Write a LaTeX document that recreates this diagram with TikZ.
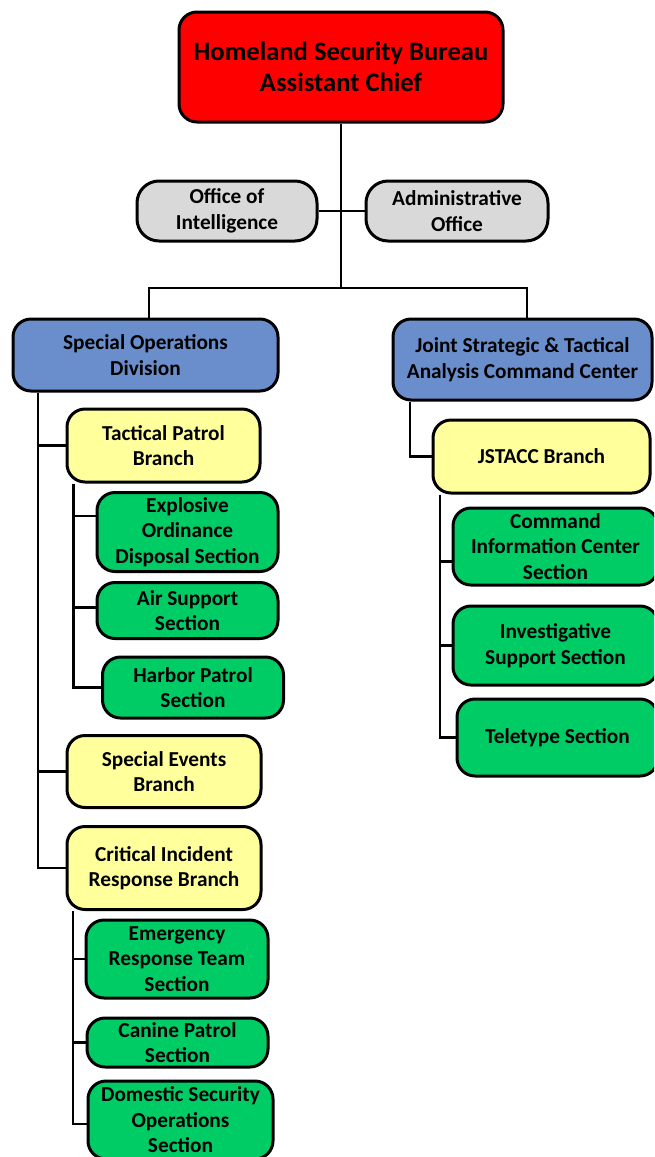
\documentclass[tikz,border=0pt]{standalone}
\usepackage{fontspec}
\setmainfont{Carlito}
\definecolor{cRed}{RGB}{255,0,0}
\definecolor{cGrey}{RGB}{217,217,217}
\definecolor{cBlue}{RGB}{106,142,204}
\definecolor{cYellow}{RGB}{255,255,156}
\definecolor{cGreen}{RGB}{0,204,102}
\newcommand{\bxfont}{\fontsize{21.3}{25.5}\selectfont\bfseries}
\newcommand{\topfont}{\fontsize{26.6}{30.5}\selectfont\bfseries}
\tikzset{
  orgbox/.style={draw=black, line width=3pt, rounded corners=18pt, inner sep=0pt,
    align=center, font=\bxfont, text=black},
  bsize/.style 2 args={minimum width=#1 pt, minimum height=#2 pt},
  link/.style={draw=black, line width=2.8pt},
  redbox/.style={orgbox, fill=cRed, font=\topfont},
  greybox/.style={orgbox, fill=cGrey, rounded corners=22pt},
  bluebox/.style={orgbox, fill=cBlue},
  yellowbox/.style={orgbox, fill=cYellow},
  greenbox/.style={orgbox, fill=cGreen},
}
\begin{document}
\begin{tikzpicture}[x=1pt,y=-1pt]
\useasboundingbox (0,0) rectangle (654,1157);
\clip (0,0) rectangle (654,1157);
\fill[white] (0,0) rectangle (654,1157);

% nodes
\node[redbox, bsize={324}{110}] (top) at (341,67) {Homeland Security Bureau\\Assistant Chief};
\node[greybox, bsize={180}{60}] (oi) at (227,211) {Office of\\Intelligence};
\node[greybox, bsize={182}{60}] (ao) at (457,211) {Administrative\\Office};
\node[bluebox, bsize={265}{72}] (sod) at (145.5,355) {Special Operations\\Division};
\node[bluebox, bsize={259}{81}] (jcc) at (522.5,359.5) {Joint Strategic \& Tactical\\Analysis Command Center};

\node[yellowbox, bsize={193}{73}] (tpb) at (163.5,445.5) {Tactical Patrol\\Branch};
\node[greenbox, bsize={181}{79}] (eod) at (187.5,532) {Explosive\\Ordinance\\Disposal Section};
\node[greenbox, bsize={181}{56}] (air) at (187.5,610.5) {Air Support\\Section};
\node[greenbox, bsize={181}{61}] (hps) at (193,687.5) {Harbor Patrol\\Section};
\node[yellowbox, bsize={194}{72}] (seb) at (164,771.5) {Special Events\\Branch};
\node[yellowbox, bsize={194}{83}] (cirb) at (164,868) {Critical Incident\\Response Branch};
\node[greenbox, bsize={182}{78}] (ert) at (177,959) {Emergency\\Response Team\\Section};
\node[greenbox, bsize={181}{49}] (cps) at (177.5,1042.5) {Canine Patrol\\Section};
\node[greenbox, bsize={185}{78}] (dso) at (180.5,1120) {Domestic Security\\Operations\\Section};

\node[yellowbox, bsize={217}{73}] (jb) at (541.5,456.5) {JSTACC Branch};
\node[greenbox, bsize={205}{77}] (cic) at (555.5,546.5) {Command\\Information Center\\Section};
\node[greenbox, bsize={205}{79}] (isc) at (555.5,645.5) {Investigative\\Support Section};
\node[greenbox, bsize={201}{77}] (tel) at (557.5,737.5) {Teletype Section};

% helper coordinates
\coordinate (hbar) at (0,288);
\coordinate (L1) at (38,0);
\coordinate (L2) at (73.5,0);
\coordinate (L3) at (73,0);
\coordinate (R1) at (410,0);
\coordinate (R2) at (440,0);

% connectors
\draw[link] (top.south) -- (top.south |- hbar);
\draw[link] (oi.east) -- (ao.west);
\draw[link] ([xshift=3.5pt]sod.north) |- (top.south |- hbar) -| ([xshift=4.5pt]jcc.north);

\draw[link] (sod.south -| L1) |- (cirb.west);
\draw[link] (L1 |- tpb.west) -- (tpb.west);
\draw[link] (L1 |- seb.west) -- (seb.west);

\draw[link] (tpb.south -| L2) |- (hps.west);
\draw[link] ([yshift=16pt]L2 |- eod.west) -- ([yshift=16pt]eod.west);
\draw[link] ([yshift=3pt]L2 |- air.west) -- ([yshift=3pt]air.west);

\draw[link] (cirb.south -| L3) |- ([yshift=-4pt]dso.west);
\draw[link] (L3 |- ert.west) -- (ert.west);
\draw[link] (L3 |- cps.west) -- (cps.west);

\draw[link] (jcc.south -| R1) |- (jb.west);
\draw[link] (jb.south -| R2) |- (tel.west);
\draw[link] ([yshift=-15pt]R2 |- cic.west) -- ([yshift=-15pt]cic.west);
\draw[link] (R2 |- isc.west) -- (isc.west);
\end{tikzpicture}
\end{document}
